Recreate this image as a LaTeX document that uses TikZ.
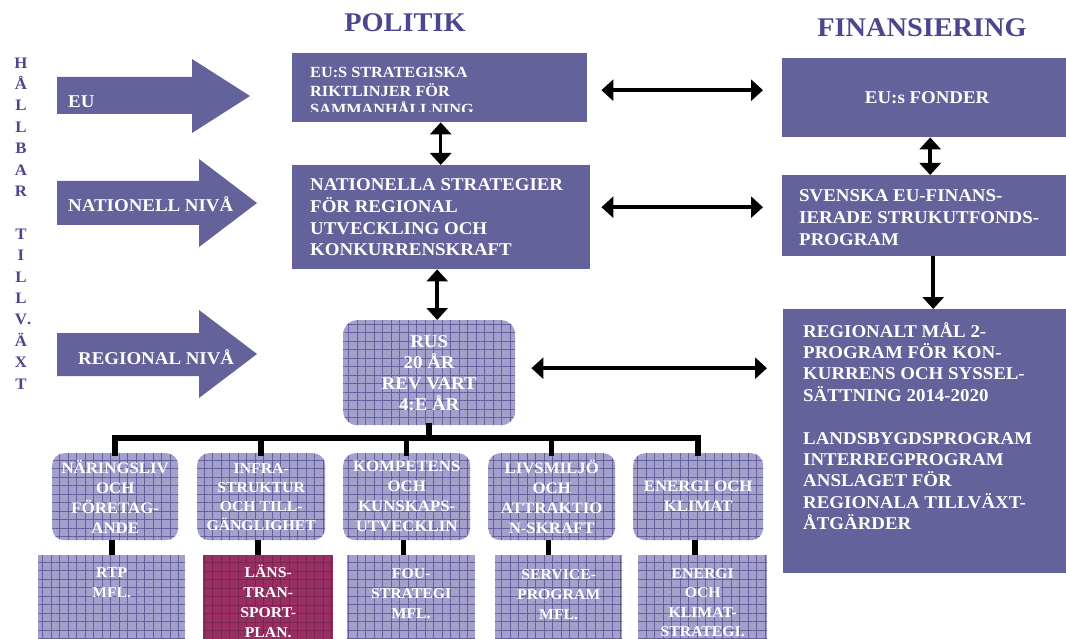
\documentclass[tikz,border=0pt]{standalone}
\usepackage{fontspec}
\setmainfont{Liberation Serif}[FakeStretch=1.05]
\usetikzlibrary{arrows.meta,patterns.meta,calc}
\definecolor{boxc}{RGB}{100,98,154}
\definecolor{lav}{RGB}{164,160,204}
\definecolor{gridc}{RGB}{100,96,158}
\definecolor{maroonc}{RGB}{152,46,98}
\definecolor{titlec}{RGB}{76,70,144}
\newcommand\myfs[2]{\fontsize{#1}{#2}\selectfont}
\begin{document}
\begin{tikzpicture}[x=1pt,y=-1pt,
  box/.style={draw=none, inner sep=0pt, anchor=north west},
  solidbox/.style={box, fill=boxc},
  gridbox/.style={box, fill=lav, postaction={pattern={Hatch[angle=0,distance=8.5pt,line width=1pt]}, pattern color=gridc}},
  marbox/.style={box, fill=maroonc, postaction={pattern={Hatch[angle=0,distance=8.5pt,line width=0.6pt]}, pattern color=maroonc!80!black}},
  wtxt/.style={text=white, inner sep=0pt, font=\bfseries},
  ttl/.style={text=titlec, inner sep=0pt, font=\bfseries\myfs{27}{30}},
  tree/.style={line width=5.5pt, line cap=rect, line join=miter},
  dbl/.style={line width=3.5pt, {Triangle[length=12pt,width=21pt]}-{Triangle[length=12pt,width=21pt]}},
  sgl/.style={line width=3.5pt, -{Triangle[length=12pt,width=21pt]}},
  blockarrow/.style={fill=boxc, draw=none}
]
\clip (0,0) rectangle (1066,639);
\fill[white] (0,0) rectangle (1066,639);

% titles
\node[ttl, anchor=base] (politik) at (405,32) {POLITIK};
\node[ttl, anchor=base] (finans) at (922,37) {FINANSIERING};

% vertical text (base anchor = last line)
\node[text=titlec, inner sep=0pt, font=\bfseries\myfs{16}{21.4}, align=center, anchor=base] (hallbar) at (21,389)
 {H\\Å\\L\\L\\B\\A\\R\\[21.4pt]T\\I\\L\\L\\V\rlap{.}\\Ä\\X\\T};

% block arrows
\fill[blockarrow] (57,77) -- (192,77) -- (192,59) -- (250,96) -- (192,133) -- (192,114) -- (57,114) -- cycle;
\fill[blockarrow] (57,181) -- (199,181) -- (199,159) -- (257,203) -- (199,247) -- (199,225) -- (57,225) -- cycle;
\fill[blockarrow] (57,333) -- (199,333) -- (199,310) -- (257,354) -- (199,398) -- (199,376) -- (57,376) -- cycle;
\node[wtxt, font=\bfseries\myfs{18}{21}, anchor=base west] (eul) at (68,108) {EU};
\node[wtxt, font=\bfseries\myfs{18}{21}, anchor=base west] (natl) at (68,212) {NATIONELL NIVÅ};
\node[wtxt, font=\bfseries\myfs{18}{21}, anchor=base west] (regl) at (78,364) {REGIONAL NIVÅ};

% politik column
\node[solidbox, minimum width=295pt, minimum height=69pt] (eus) at (292,53) {};
\begin{scope}
\clip (292,53) rectangle (587,112);
\node[wtxt, font=\bfseries\myfs{15.5}{18.5}, align=left, anchor=base west] (eust) at (310,115)
 {EU:S STRATEGISKA\\RIKTLINJER FÖR\\SAMMANHÅLLNING};
\end{scope}
\node[solidbox, minimum width=298pt, minimum height=104pt] (nat) at (292,165) {};
\node[wtxt, font=\bfseries\myfs{18}{22}, align=left, anchor=base west] (natt) at (310,256)
 {NATIONELLA STRATEGIER\\FÖR REGIONAL\\UTVECKLING OCH\\KONKURRENSKRAFT};

\node[gridbox, rounded corners=14pt, minimum width=172pt, minimum height=105pt,
      text=white, font=\bfseries\myfs{18}{21}, align=center] (rus) at (343,320)
 {RUS\\20 ÅR\\REV VART\\4:E ÅR};

% finansiering column
\node[solidbox, minimum width=290pt, minimum height=79pt, text=white, font=\bfseries\myfs{18}{21}] (fond) at (782,58) {EU:s FONDER};
\node[solidbox, minimum width=290pt, minimum height=81pt] (sv) at (782,175) {};
\node[wtxt, font=\bfseries\myfs{18}{22}, align=left, anchor=base west] (svt) at (799,246)
 {SVENSKA EU-FINANS-\\IERADE STRUKUTFONDS-\\PROGRAM};
\node[solidbox, minimum width=290pt, minimum height=264pt] (reg) at (783,309) {};
\node[wtxt, font=\bfseries\myfs{18}{21.4}, align=left, anchor=base west] (regt) at (803,529.6)
 {REGIONALT MÅL 2-\\PROGRAM FÖR KON-\\KURRENS OCH SYSSEL-\\SÄTTNING 2014-2020\\[21.4pt]LANDSBYGDSPROGRAM\\INTERREGPROGRAM\\ANSLAGET FÖR\\REGIONALA TILLVÄXT-\\ÅTGÄRDER};

% category boxes
\tikzset{cat/.style={gridbox, rounded corners=12pt, minimum height=87pt, text=white, font=\bfseries\myfs{16}{20}, align=center}}
\node[cat, minimum width=126pt] (c1) at (52,453) {NÄRINGSLIV\\OCH\\FÖRETAG-\\ANDE};
\node[cat, minimum width=128pt, font=\bfseries\myfs{15}{19}] (c2) at (197,453) {INFRA-\\STRUKTUR\\OCH TILL-\\GÄNGLIGHET};
\node[cat, minimum width=127pt] (c3) at (343,453) {KOMPETENS\\OCH\\KUNSKAPS-\\UTVECKLIN};
\node[cat, minimum width=127pt] (c4) at (488,453) {LIVSMILJÖ\\OCH\\ATTRAKTIO\\N-SKRAFT};
\node[cat, minimum width=130pt] (c5) at (633,453) {ENERGI OCH\\KLIMAT};

% bottom boxes
\node[gridbox, minimum width=147pt, minimum height=100pt] (b1) at (38,555) {};
\node[marbox, minimum width=130pt, minimum height=100pt] (b2) at (203,555) {};
\node[gridbox, minimum width=128pt, minimum height=100pt] (b3) at (347,555) {};
\node[gridbox, minimum width=127pt, minimum height=100pt] (b4) at (495,555) {};
\node[gridbox, minimum width=129pt, minimum height=100pt] (b5) at (638,555) {};
\tikzset{btxt/.style={wtxt, font=\bfseries\myfs{15}{20}, align=center, anchor=base}}
\node[btxt] (b1t) at ($(b1.north)+(0,42)$) {RTP\\MFL.};
\node[btxt] (b2t) at ($(b2.north)+(0,82)$) {LÄNS-\\TRAN-\\SPORT-\\PLAN.};
\node[btxt] (b3t) at ($(b3.north)+(0,63)$) {FOU-\\STRATEGI\\MFL.};
\node[btxt] (b4t) at ($(b4.north)+(0,64)$) {SERVICE-\\PROGRAM\\MFL.};
\node[btxt, font=\bfseries\myfs{15}{19.5}] (b5t) at ($(b5.north)+(0,81.5)$) {ENERGI\\OCH\\KLIMAT-\\STRATEGI.};

% tree
\coordinate (bar) at (428,438);
\draw[tree] (rus.south) -- (rus.south |- bar);
\draw[tree] (c1.north) -- (c1.north |- bar) -- (c5.north |- bar) -- (c5.north);
\foreach \c in {c2,c3,c4} \draw[tree] (\c.north) -- (\c.north |- bar);
\foreach \c/\b in {c1/b1,c2/b2,c3/b3,c4/b4,c5/b5} \draw[tree, line cap=butt] ([xshift=-3pt]\c.south) -- ([xshift=-3pt]\c.south |- \b.north);

% arrows
\draw[dbl] ([xshift=1pt]eus.south) -- ([xshift=1pt]eus.south |- nat.north);
\draw[dbl] ([xshift=-4pt]nat.south) -- ([xshift=-4pt]nat.south |- rus.north);
\draw[dbl] ([xshift=3pt]fond.south) -- ([xshift=3pt]fond.south |- sv.north);
\draw[sgl] ([xshift=6pt]sv.south) -- ([xshift=6pt]sv.south |- reg.north);
\draw[dbl] ($(eus.east)+(14,2.5)$) -- ($(eus.east -| fond.west)+(-19,2.5)$);
\draw[dbl] ($(nat.east)+(11,-10)$) -- ($(nat.east -| sv.west)+(-19,-10)$);
\draw[dbl] ($(rus.east)+(16,-4.5)$) -- ($(rus.east -| reg.west)+(-16,-4.5)$);
\end{tikzpicture}
\end{document}
